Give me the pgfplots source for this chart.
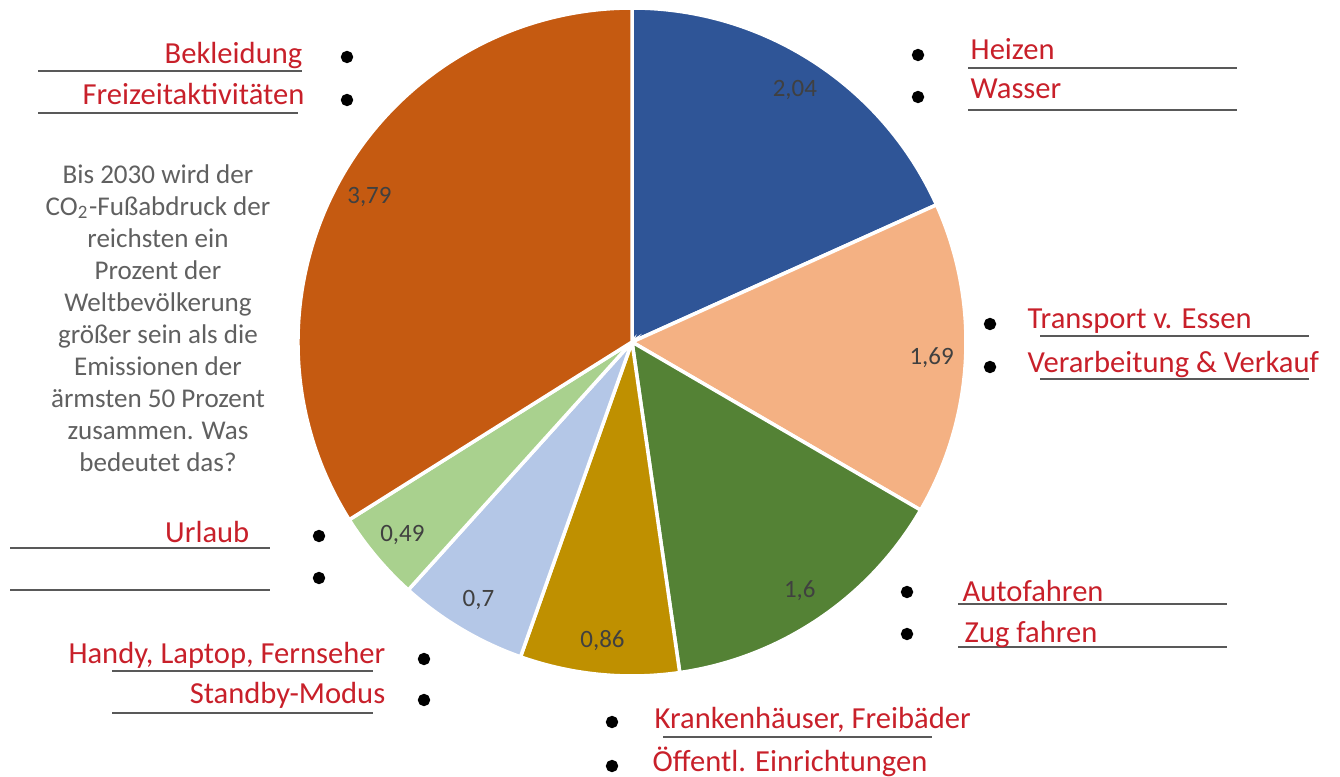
\documentclass[border=0pt]{standalone}
\usepackage{pgfplots}
\pgfplotsset{compat=1.18}
\usepackage{pgfplotstable}
\usepackage{fontspec}
\setmainfont{Carlito}
\newfontfamily\hand{Carlito}
\definecolor{cBlue}{HTML}{2F5597}
\definecolor{cPeach}{HTML}{F4B183}
\definecolor{cGreen}{HTML}{548235}
\definecolor{cGold}{HTML}{BF9000}
\definecolor{cLBlue}{HTML}{B4C7E7}
\definecolor{cLGreen}{HTML}{A9D18E}
\definecolor{cOrange}{HTML}{C55A11}
\definecolor{hred}{HTML}{C8202A}
\definecolor{ulgray}{HTML}{595959}
\definecolor{lblgray}{HTML}{404040}
\definecolor{txtgray}{HTML}{606060}

\pgfplotstableread{
label value color
2,04 2.04 cBlue
1,69 1.69 cPeach
1,6 1.60 cGreen
0,86 0.86 cGold
0,7 0.70 cLBlue
0,49 0.49 cLGreen
3,79 3.79 cOrange
}\pietable

\tikzset{hw/.style={font=\hand\fontsize{8.7}{10}\selectfont, text=hred, inner sep=0pt}}

\begin{document}
\begin{tikzpicture}
\begin{axis}[scale only axis, width=13.4cm, height=7.76cm,
  xmin=0, xmax=1340, ymin=0, ymax=776, hide axis, clip=false]
\pgfplotsextra{%
  \gdef\pietotal{0}%
  \foreach \i in {0,...,6}{%
    \pgfplotstablegetelem{\i}{value}\of\pietable
    \pgfmathsetmacro\tmpsum{\pietotal+\pgfplotsretval}%
    \xdef\pietotal{\tmpsum}%
  }%
  \gdef\piestart{90}%
  \foreach \i in {0,...,6}{%
    \pgfplotstablegetelem{\i}{value}\of\pietable
    \let\pval\pgfplotsretval
    \pgfplotstablegetelem{\i}{color}\of\pietable
    \let\pcol\pgfplotsretval
    \pgfplotstablegetelem{\i}{label}\of\pietable
    \let\plab\pgfplotsretval
    \pgfmathsetmacro\pieend{\piestart-360*\pval/\pietotal}%
    \pgfmathsetmacro\piemid{(\piestart+\pieend)/2}%
    \fill[\pcol, draw=white, line width=1pt] (axis cs:632,434) -- ++(\piestart:3.34cm)
      arc[start angle=\piestart, end angle=\pieend, radius=3.34cm] -- cycle;
    \path (axis cs:632,434) ++(\piemid:3.0cm) node[text=lblgray, font=\fontsize{7.1}{8}\selectfont] {\plab};
    \xdef\piestart{\pieend}%
  }%
}
% underlines
\pgfplotsset{every axis plot/.append style={ulgray, line width=0.6pt}}
\addplot[no markers] coordinates {(38,705) (302,705)};
\addplot[no markers] coordinates {(38,663) (298,663)};
\addplot[no markers] coordinates {(968,708) (1237,708)};
\addplot[no markers] coordinates {(968,666) (1237,666)};
\addplot[no markers] coordinates {(1040,440) (1309,440)};
\addplot[no markers] coordinates {(1040,397) (1309,397)};
\addplot[no markers] coordinates {(958,172) (1227,172)};
\addplot[no markers] coordinates {(958,129) (1227,129)};
\addplot[no markers] coordinates {(663,39) (932,39)};
\addplot[no markers] coordinates {(112,105) (373,105)};
\addplot[no markers] coordinates {(112,63) (373,63)};
\addplot[no markers] coordinates {(10,228) (270,228)};
\addplot[no markers] coordinates {(10,186) (270,186)};
% bullets
\addplot[only marks, mark=*, mark size=1.45pt, black] coordinates {
(347,719) (347,676) (918,721) (918,679) (990,452) (990,409) (907,184) (907,142)
(612,54) (612,10) (424,117) (424,76) (319,240) (319,198)};
% handwritten labels
\node[hw, anchor=base east] at (axis cs:303,712) {Bekleidung};
\node[hw, anchor=base east] at (axis cs:305,671) {Freizeitaktivitäten};
\node[hw, anchor=base west] at (axis cs:970,716) {Heizen};
\node[hw, anchor=base west] at (axis cs:970,677) {Wasser};
\node[hw, anchor=base west] at (axis cs:1027,447) {Transport v. Essen};
\node[hw, anchor=base west] at (axis cs:1027,403) {Verarbeitung \& Verkauf};
\node[hw, anchor=base west] at (axis cs:962,175) {Autofahren};
\node[hw, anchor=base west] at (axis cs:964,134) {Zug fahren};
\node[hw, anchor=base west] at (axis cs:654,48) {Krankenhäuser, Freibäder};
\node[hw, anchor=base west] at (axis cs:652,5) {Öffentl. Einrichtungen};
\node[hw, anchor=base east] at (axis cs:386,113) {Handy, Laptop, Fernseher};
\node[hw, anchor=base east] at (axis cs:386,73) {Standby-Modus};
\node[hw, anchor=base east] at (axis cs:250,234) {Urlaub};
% text block
\node[align=center, text=txtgray, font=\fontsize{7.7}{9.1}\selectfont, inner sep=0pt]
  at (axis cs:158,458) {Bis 2030 wird der\\CO\textsubscript{2}-Fußabdruck der\\reichsten ein\\Prozent der\\Weltbevölkerung\\größer sein als die\\Emissionen der\\ärmsten 50 Prozent\\zusammen. Was\\bedeutet das?};
\end{axis}
\pgfresetboundingbox
\useasboundingbox (current axis.south west) rectangle (current axis.north east);
\end{tikzpicture}
\end{document}
